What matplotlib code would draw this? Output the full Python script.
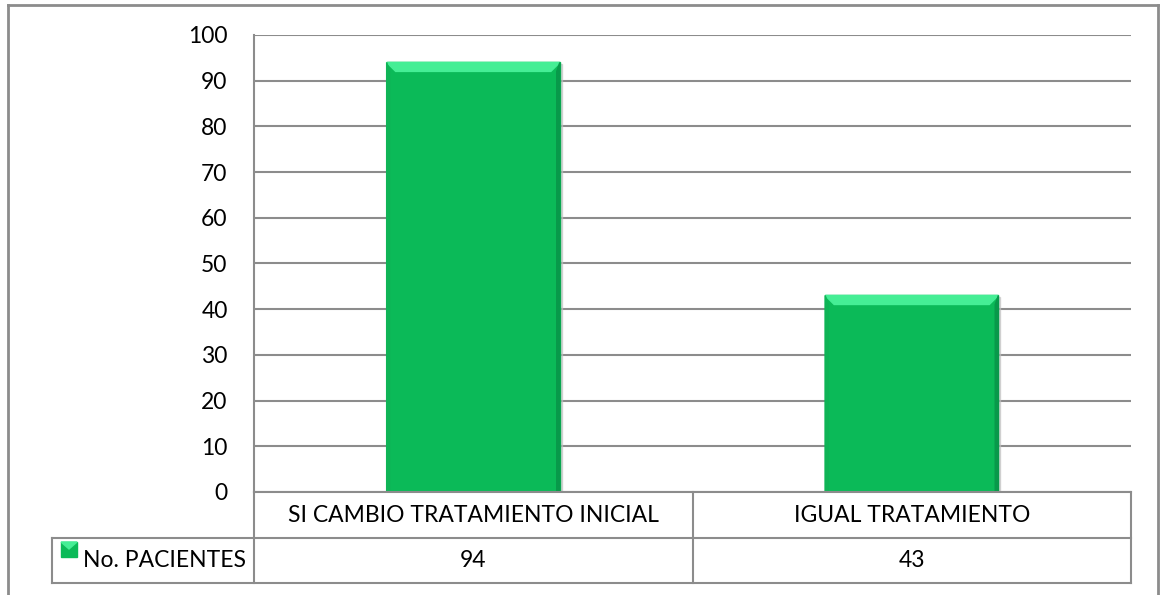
import matplotlib.pyplot as plt
from matplotlib.patches import Polygon, Rectangle
from matplotlib.lines import Line2D

categories = ["SI CAMBIO TRATAMIENTO INICIAL", "IGUAL TRATAMIENTO"]
pacientes = [94, 43]
series_name = "No. PACIENTES"
y_ticks = list(range(0, 101, 10))

W, H = 1160, 595
FS = 16.5
plt.rcParams['font.family'] = ['Lato', 'DejaVu Sans']

fig = plt.figure(figsize=(W / 100, H / 100), dpi=100)

# plot area in pixel coords (left, top, right, bottom)
L, T, R, B = 254, 35, 1131, 492
ax = fig.add_axes([L / W, 1 - B / H, (R - L) / W, (B - T) / H])
ax.set_xlim(-0.5, len(categories) - 0.5)
ax.set_ylim(0, 100)
ax.set_yticks(y_ticks)
ax.set_xticks([])
ax.tick_params(axis='y', length=0, pad=19, labelsize=FS)
for s in ['top', 'right', 'bottom']:
    ax.spines[s].set_visible(False)
ax.spines['left'].set_color('#8c8c8c')
ax.spines['left'].set_linewidth(1.5)
ax.grid(axis='y', color='#8c8c8c', linewidth=1.5)
ax.set_axisbelow(True)

GREEN = '#0bba58'
LIGHT = '#45ee95'
SIDE = '#0fb456'
DARK = '#08994a'
bw = 0.395
px_x = (len(categories)) / (R - L)
px_y = 100 / (B - T)
bev = 9

for i, v in enumerate(pacientes):
    x0, x1 = i - bw / 2, i + bw / 2
    # shadow
    ax.add_patch(Rectangle((x0 + 2 * px_x, 0), bw, v - 2 * px_y, color='#bfbfbf', alpha=0.6, zorder=2))
    ax.add_patch(Rectangle((x0, 0), bw, v, color=GREEN, zorder=3))
    dx, dy = bev * px_x, bev * px_y
    ax.add_patch(Polygon([(x0, v), (x1, v), (x1 - dx, v - dy), (x0 + dx, v - dy)],
                         closed=True, color=LIGHT, zorder=4))
    ax.add_patch(Polygon([(x0, v), (x0 + dx * 0.35, v - dy), (x0 + dx * 0.35, 0), (x0, 0)],
                         closed=True, color=SIDE, zorder=4))
    ax.add_patch(Polygon([(x1, v), (x1 - dx * 0.35, v - dy), (x1 - dx * 0.35, 0), (x1, 0)],
                         closed=True, color=DARK, zorder=4))


def hline(x0, x1, y, c='#8c8c8c', lw=1.5):
    fig.add_artist(Line2D([x0 / W, x1 / W], [1 - y / H, 1 - y / H], color=c, lw=lw))


def vline(x, y0, y1, c='#8c8c8c', lw=1.5):
    fig.add_artist(Line2D([x / W, x / W], [1 - y0 / H, 1 - y1 / H], color=c, lw=lw))


# outer chart border
hline(8, 1158, 5, lw=2)
vline(8, 5, 595, lw=2)
vline(1158, 5, 595, lw=2)

# data table
r1, r2, r3 = 492, 538, 583
cols = [L + (R - L) * k / len(categories) for k in range(len(categories) + 1)]
hline(L, R, r1)
hline(52, R, r2)
hline(52, R, r3)
for cx in cols:
    vline(cx, r1, r3)
vline(52, r2, r3)

for k, (cat, v) in enumerate(zip(categories, pacientes)):
    cx = (cols[k] + cols[k + 1]) / 2
    fig.text(cx / W, 1 - (r1 + r2) / 2 / H, cat, ha='center', va='center', fontsize=FS)
    fig.text(cx / W, 1 - (r2 + r3) / 2 / H, str(v), ha='center', va='center', fontsize=FS)

# legend key
fig.add_artist(Rectangle((61 / W, 1 - 557 / H), 16 / W, 15 / H, color=GREEN,
                         transform=fig.transFigure))
fig.add_artist(Polygon([(61 / W, 1 - 542 / H), (77 / W, 1 - 542 / H), (69 / W, 1 - 549 / H)],
                       closed=True, color=LIGHT, transform=fig.transFigure))
fig.text(83 / W, 1 - (r2 + r3) / 2 / H, series_name, ha='left', va='center', fontsize=FS)

fig.savefig('out.png', dpi=100, facecolor='white')
